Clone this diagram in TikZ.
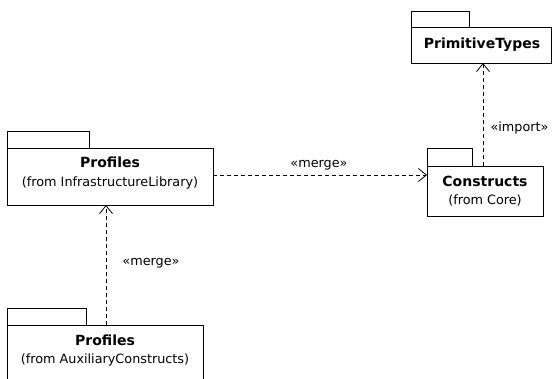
\documentclass[tikz,border=0pt]{standalone}
\usepackage{fontspec}
\setmainfont{DejaVu Sans}
\usetikzlibrary{arrows.meta}
\begin{document}
\begin{tikzpicture}[x=1pt,y=-1pt,
  pkgline/.style={draw,line width=0.9pt},
  dep/.style={draw,line width=0.8pt,dash pattern=on 4pt off 3pt,-{Straight Barb[length=8pt,width=13pt]}},
  ttl/.style={font=\fontsize{14}{16}\selectfont\bfseries},
  sub/.style={font=\fontsize{12.8}{15}\selectfont},
  lbl/.style={font=\fontsize{12.8}{15}\selectfont}]
\useasboundingbox (0,0) rectangle (553,379);
\begin{scope}
\clip (0,0) rectangle (553,379);
% PrimitiveTypes
\draw[pkgline] (411,11) rectangle (469,27);
\draw[pkgline] (411,27) rectangle (551,63);
\node[ttl] (ptt) at (482,45) {PrimitiveTypes};
% Profiles infra
\draw[pkgline] (7,131) rectangle (89,148);
\draw[pkgline] (7,148) rectangle (213,205);
\node[ttl] (pit) at (110,162) {Profiles};
\node[sub] (pis) at (110,183) {(from InfrastructureLibrary)};
% Constructs
\draw[pkgline] (427,148) rectangle (472,166);
\draw[pkgline] (427,166) rectangle (543,216);
\node[ttl] (ct) at (485,181) {Constructs};
\node[sub] (cs) at (485,200) {(from Core)};
% Profiles aux
\draw[pkgline] (7,308) rectangle (86,325);
\draw[pkgline] (7,325) rectangle (203,400);
\node[ttl] (pat0) at (105,340) {Profiles};
\node[sub] (pas) at (105,360) {(from AuxiliaryConstructs)};
\end{scope}
% anchors
\coordinate (ctop) at (483,166);
\coordinate (pbot) at (483,63);
\coordinate (pir) at (213,175);
\coordinate (cl) at (427,175);
\coordinate (pab) at (106,205);
\coordinate (pat) at (106,325);
\draw[dep] (ctop) -- (pbot);
\draw[dep] (pir) -- (cl);
\draw[dep] (pat) -- (pab);
\node[lbl,anchor=west] (li) at (487,128) {«import»};
\node[lbl] (lm1) at (319,165) {«merge»};
\node[lbl] (lm2) at (151,263) {«merge»};
\end{tikzpicture}
\end{document}
